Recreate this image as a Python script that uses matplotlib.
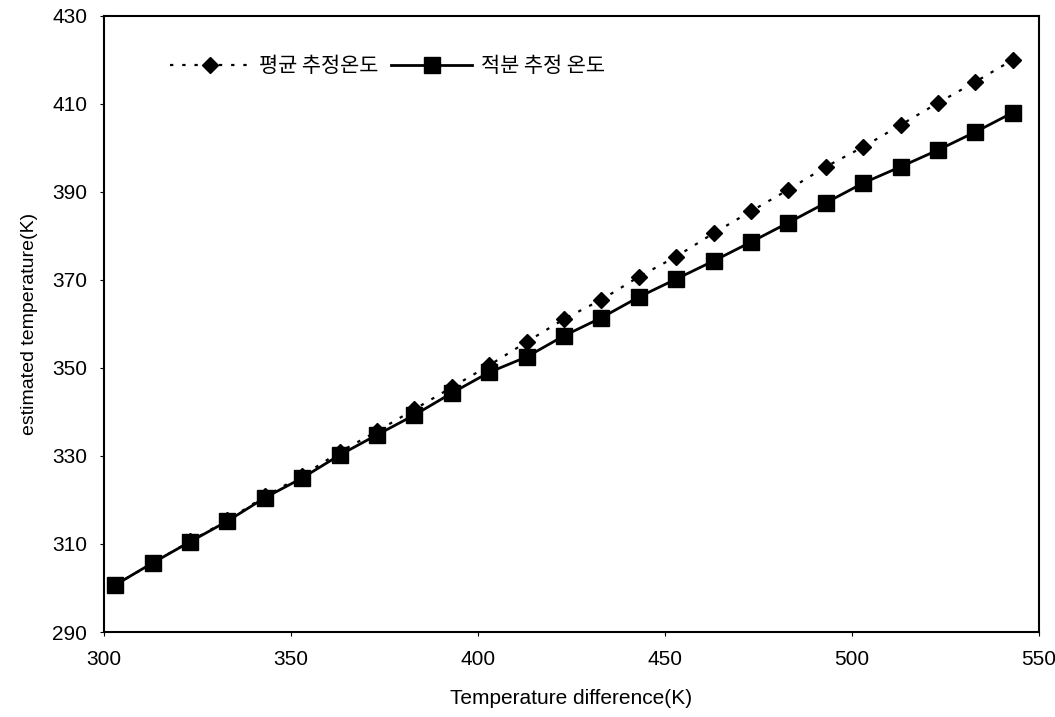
import numpy as np
import matplotlib.pyplot as plt

plt.rcParams['font.family'] = ['Liberation Sans', 'Noto Sans CJK KR', 'DejaVu Sans']

# 온도차 (K)
temp_diff = [303, 313, 323, 333, 343, 353, 363, 373, 383, 393, 403, 413, 423,
             433, 443, 453, 463, 473, 483, 493, 503, 513, 523, 533, 543]
# 평균 추정온도
avg_est = [300.7, 305.7, 310.6, 315.4, 320.8, 325.5, 330.9, 335.6, 340.6, 345.6,
           350.6, 355.9, 361.1, 365.5, 370.7, 375.3, 380.6, 385.6, 390.5, 395.7,
           400.2, 405.2, 410.2, 415.0, 420.0]
# 적분 추정 온도
int_est = [300.7, 305.7, 310.5, 315.2, 320.5, 325.0, 330.2, 334.8, 339.3, 344.3,
           349.0, 352.5, 357.3, 361.4, 366.1, 370.2, 374.3, 378.6, 383.0, 387.5,
           392.0, 395.7, 399.5, 403.6, 408.0]

fig = plt.figure(figsize=(10.55, 7.17), dpi=100)
ax = fig.add_axes([0.0986, 0.1185, 0.8862, 0.8595])

ax.plot(temp_diff, avg_est, color='black', linestyle=(0, (1.5, 4)), linewidth=1.6,
        marker='D', markersize=8, label='평균 추정온도')
ax.plot(temp_diff, int_est, color='black', linestyle='-', linewidth=2,
        marker='s', markersize=11, label='적분 추정 온도')

ax.set_xlim(300, 550)
ax.set_ylim(290, 430)
ax.set_xticks(np.arange(300, 551, 50))
ax.set_yticks(np.arange(290, 431, 20))
ax.tick_params(direction='out', length=3, labelsize=15)
ax.tick_params(axis='x', pad=10)
ax.tick_params(axis='y', pad=9)
for s in ax.spines.values():
    s.set_linewidth(1.5)

ax.set_xlabel('Temperature difference(K)', fontsize=15, labelpad=14)
ax.set_ylabel('estimated temperature(K)', fontsize=14, labelpad=10)

leg = ax.legend(loc='upper left', bbox_to_anchor=(0.05, 0.967), ncol=2, frameon=False,
                handlelength=3.9, columnspacing=0.6, handletextpad=0.4,
                prop={'family': ['Noto Sans CJK KR', 'DejaVu Sans'], 'size': 15,
                      'weight': 'medium'})

fig.savefig('out.png', dpi=100)
